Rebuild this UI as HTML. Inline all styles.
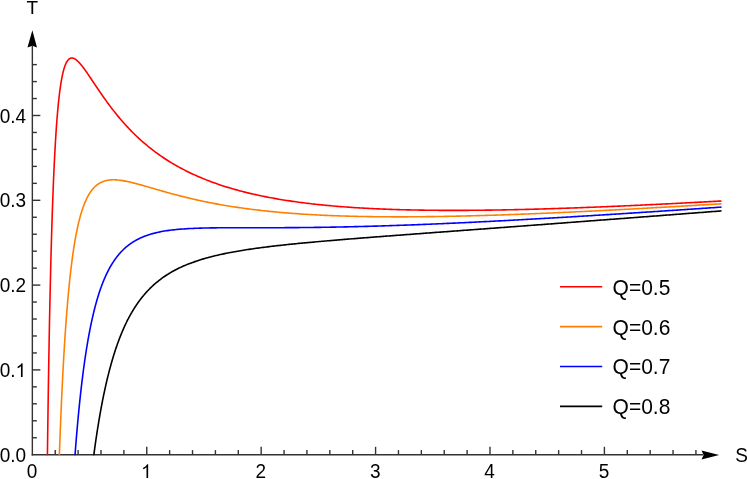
<!DOCTYPE html>
<html><head><meta charset="utf-8"><title>T-S plot</title>
<style>html,body{margin:0;padding:0;background:#fff;}body{width:747px;height:479px;overflow:hidden;font-family:"Liberation Sans",sans-serif;}svg{display:block;will-change:transform}</style>
</head><body>
<svg width="747" height="479" viewBox="0 0 747 479">
<rect width="747" height="479" fill="#fff"/>
<defs><clipPath id="c"><rect x="0" y="0" width="747" height="455.25"/></clipPath></defs>
<g stroke="#333" stroke-width="1.4" fill="none">
<path d="M32.35,455.4 V46"/>
<path d="M31.650000000000002,454.7 H703"/>
<path d="M32.35,437.74 h4.5"/>
<path d="M32.35,420.78 h4.5"/>
<path d="M32.35,403.82 h4.5"/>
<path d="M32.35,386.86 h4.5"/>
<path d="M32.35,369.90 h8.0"/>
<path d="M32.35,352.94 h4.5"/>
<path d="M32.35,335.98 h4.5"/>
<path d="M32.35,319.02 h4.5"/>
<path d="M32.35,302.06 h4.5"/>
<path d="M32.35,285.10 h8.0"/>
<path d="M32.35,268.14 h4.5"/>
<path d="M32.35,251.18 h4.5"/>
<path d="M32.35,234.22 h4.5"/>
<path d="M32.35,217.26 h4.5"/>
<path d="M32.35,200.30 h8.0"/>
<path d="M32.35,183.34 h4.5"/>
<path d="M32.35,166.38 h4.5"/>
<path d="M32.35,149.42 h4.5"/>
<path d="M32.35,132.46 h4.5"/>
<path d="M32.35,115.50 h8.0"/>
<path d="M32.35,98.54 h4.5"/>
<path d="M32.35,81.58 h4.5"/>
<path d="M32.35,64.62 h4.5"/>
<path d="M55.23,454.7 v-4.6"/>
<path d="M78.11,454.7 v-4.6"/>
<path d="M101.00,454.7 v-4.6"/>
<path d="M123.88,454.7 v-4.6"/>
<path d="M146.76,454.7 v-7.9"/>
<path d="M169.64,454.7 v-4.6"/>
<path d="M192.52,454.7 v-4.6"/>
<path d="M215.41,454.7 v-4.6"/>
<path d="M238.29,454.7 v-4.6"/>
<path d="M261.17,454.7 v-7.9"/>
<path d="M284.05,454.7 v-4.6"/>
<path d="M306.93,454.7 v-4.6"/>
<path d="M329.82,454.7 v-4.6"/>
<path d="M352.70,454.7 v-4.6"/>
<path d="M375.58,454.7 v-7.9"/>
<path d="M398.46,454.7 v-4.6"/>
<path d="M421.34,454.7 v-4.6"/>
<path d="M444.23,454.7 v-4.6"/>
<path d="M467.11,454.7 v-4.6"/>
<path d="M489.99,454.7 v-7.9"/>
<path d="M512.87,454.7 v-4.6"/>
<path d="M535.75,454.7 v-4.6"/>
<path d="M558.64,454.7 v-4.6"/>
<path d="M581.52,454.7 v-4.6"/>
<path d="M604.40,454.7 v-7.9"/>
<path d="M627.28,454.7 v-4.6"/>
<path d="M650.16,454.7 v-4.6"/>
<path d="M673.05,454.7 v-4.6"/>
<path d="M695.93,454.7 v-4.6"/>
</g>
<g clip-path="url(#c)"><path d="M46.00,470.00 L46.25,470.00 L46.50,470.00 L46.75,470.00 L47.00,470.00 L47.26,467.88 L47.51,447.95 L47.76,429.07 L48.01,411.19 L48.26,394.24 L48.51,378.16 L48.76,362.91 L49.01,348.43 L49.26,334.67 L49.51,321.60 L49.77,309.17 L50.02,297.35 L50.27,286.11 L50.52,275.40 L50.77,265.21 L51.02,255.50 L51.27,246.25 L51.52,237.43 L51.77,229.02 L52.03,221.00 L52.28,213.35 L52.53,206.05 L52.78,199.08 L53.03,192.43 L53.28,186.08 L53.53,180.01 L53.78,174.21 L54.03,168.68 L54.28,163.39 L54.54,158.33 L54.79,153.49 L55.04,148.87 L55.29,144.45 L55.54,140.23 L55.79,136.19 L56.04,132.33 L56.29,128.63 L56.54,125.10 L56.79,121.72 L57.05,118.49 L57.30,115.40 L57.55,112.44 L57.80,109.62 L58.05,106.91 L58.30,104.33 L58.55,101.86 L58.80,99.49 L59.05,97.24 L59.31,95.08 L59.56,93.01 L59.81,91.04 L60.06,89.16 L60.31,87.36 L60.56,85.65 L60.81,84.01 L61.06,82.44 L61.31,80.95 L61.56,79.53 L61.82,78.17 L62.07,76.88 L62.32,75.65 L62.57,74.48 L62.82,73.37 L63.07,72.31 L63.32,71.30 L63.57,70.35 L63.82,69.44 L64.08,68.58 L64.33,67.76 L64.58,66.99 L64.83,66.26 L65.08,65.57 L65.33,64.92 L65.58,64.31 L65.83,63.74 L66.08,63.19 L66.33,62.69 L66.59,62.21 L66.84,61.77 L67.09,61.35 L67.34,60.97 L67.59,60.61 L67.84,60.28 L68.09,59.98 L68.34,59.70 L68.59,59.44 L68.85,59.21 L69.10,59.01 L69.35,58.82 L69.60,58.65 L69.85,58.51 L70.10,58.38 L70.35,58.28 L70.60,58.19 L70.85,58.12 L71.10,58.06 L71.36,58.03 L71.61,58.00 L71.86,58.00 L72.11,58.01 L72.36,58.03 L72.61,58.07 L72.86,58.12 L73.11,58.18 L73.36,58.25 L73.62,58.34 L73.87,58.44 L74.12,58.55 L74.37,58.67 L74.62,58.80 L74.87,58.94 L75.12,59.09 L75.37,59.25 L75.62,59.42 L75.87,59.60 L76.13,59.79 L76.38,59.98 L76.63,60.18 L76.88,60.39 L77.13,60.61 L77.38,60.83 L77.63,61.06 L77.88,61.30 L78.13,61.54 L78.38,61.79 L78.64,62.05 L78.89,62.31 L79.14,62.58 L79.39,62.85 L79.64,63.13 L79.89,63.41 L80.14,63.69 L80.39,63.98 L80.64,64.28 L80.90,64.58 L81.15,64.88 L81.40,65.19 L81.65,65.50 L81.90,65.81 L82.15,66.13 L82.40,66.45 L82.65,66.78 L82.90,67.10 L83.15,67.43 L83.41,67.77 L83.66,68.10 L83.91,68.44 L84.16,68.78 L84.41,69.12 L84.66,69.47 L84.91,69.81 L85.16,70.16 L85.41,70.51 L85.67,70.87 L85.92,71.22 L86.17,71.58 L86.42,71.94 L86.67,72.29 L86.92,72.65 L87.17,73.02 L87.42,73.38 L87.67,73.74 L87.92,74.11 L88.18,74.48 L88.43,74.84 L88.68,75.21 L88.93,75.58 L89.18,75.95 L89.43,76.32 L89.68,76.69 L89.93,77.07 L90.18,77.44 L90.44,77.81 L90.69,78.19 L90.94,78.56 L91.19,78.93 L91.44,79.31 L91.69,79.68 L91.94,80.06 L92.19,80.44 L92.44,80.81 L92.69,81.19 L92.95,81.56 L93.20,81.94 L93.45,82.31 L93.70,82.69 L93.95,83.07 L94.20,83.44 L94.45,83.82 L94.70,84.19 L94.95,84.57 L95.21,84.95 L95.46,85.32 L95.71,85.69 L95.96,86.07 L96.21,86.44 L96.46,86.82 L96.71,87.19 L96.96,87.56 L97.21,87.94 L97.46,88.31 L97.72,88.68 L97.97,89.05 L98.22,89.42 L98.47,89.79 L98.72,90.16 L98.97,90.53 L99.22,90.90 L99.47,91.27 L99.72,91.64 L99.97,92.00 L100.23,92.37 L100.48,92.74 L100.73,93.10 L100.98,93.47 L101.23,93.83 L101.48,94.19 L101.73,94.56 L101.98,94.92 L102.23,95.28 L102.49,95.64 L102.74,96.00 L102.99,96.36 L103.24,96.71 L103.49,97.07 L103.74,97.43 L103.99,97.78 L104.24,98.14 L104.49,98.49 L104.74,98.85 L105.00,99.20 L105.25,99.55 L105.50,99.90 L105.75,100.25 L106.00,100.60 L107.54,102.72 L109.09,104.82 L110.63,106.87 L112.17,108.89 L113.71,110.88 L115.26,112.83 L116.80,114.74 L118.34,116.62 L119.88,118.47 L121.43,120.27 L122.97,122.04 L124.51,123.78 L126.05,125.48 L127.60,127.15 L129.14,128.78 L130.68,130.39 L132.22,131.95 L133.77,133.49 L135.31,135.00 L136.85,136.47 L138.39,137.92 L139.94,139.34 L141.48,140.73 L143.02,142.09 L144.57,143.42 L146.11,144.72 L147.65,146.00 L149.19,147.26 L150.74,148.48 L152.28,149.69 L153.82,150.87 L155.36,152.02 L156.91,153.16 L158.45,154.27 L159.99,155.35 L161.53,156.42 L163.08,157.47 L164.62,158.49 L166.16,159.50 L167.70,160.48 L169.25,161.45 L170.79,162.40 L172.33,163.33 L173.87,164.24 L175.42,165.13 L176.96,166.01 L178.50,166.87 L180.05,167.71 L181.59,168.54 L183.13,169.35 L184.67,170.15 L186.22,170.93 L187.76,171.70 L189.30,172.45 L190.84,173.19 L192.39,173.92 L193.93,174.63 L195.47,175.33 L197.01,176.01 L198.56,176.68 L200.10,177.35 L201.64,177.99 L203.18,178.63 L204.73,179.25 L206.27,179.87 L207.81,180.47 L209.35,181.06 L210.90,181.64 L212.44,182.21 L213.98,182.77 L215.53,183.32 L217.07,183.86 L218.61,184.39 L220.15,184.92 L221.70,185.43 L223.24,185.93 L224.78,186.42 L226.32,186.91 L227.87,187.38 L229.41,187.85 L230.95,188.31 L232.49,188.76 L234.04,189.21 L235.58,189.64 L237.12,190.07 L238.66,190.49 L240.21,190.90 L241.75,191.31 L243.29,191.71 L244.83,192.10 L246.38,192.48 L247.92,192.86 L249.46,193.23 L251.01,193.60 L252.55,193.96 L254.09,194.31 L255.63,194.65 L257.18,194.99 L258.72,195.33 L260.26,195.66 L261.80,195.98 L263.35,196.29 L264.89,196.61 L266.43,196.91 L267.97,197.21 L269.52,197.51 L271.06,197.80 L272.60,198.08 L274.14,198.36 L275.69,198.63 L277.23,198.90 L278.77,199.17 L280.31,199.43 L281.86,199.68 L283.40,199.94 L284.94,200.18 L286.48,200.42 L288.03,200.66 L289.57,200.90 L291.11,201.12 L292.66,201.35 L294.20,201.57 L295.74,201.79 L297.28,202.00 L298.83,202.21 L300.37,202.42 L301.91,202.62 L303.45,202.81 L305.00,203.01 L306.54,203.20 L308.08,203.39 L309.62,203.57 L311.17,203.75 L312.71,203.93 L314.25,204.10 L315.79,204.27 L317.34,204.44 L318.88,204.60 L320.42,204.76 L321.96,204.92 L323.51,205.07 L325.05,205.22 L326.59,205.37 L328.14,205.52 L329.68,205.66 L331.22,205.80 L332.76,205.94 L334.31,206.07 L335.85,206.20 L337.39,206.33 L338.93,206.46 L340.48,206.58 L342.02,206.70 L343.56,206.82 L345.10,206.94 L346.65,207.05 L348.19,207.16 L349.73,207.27 L351.27,207.37 L352.82,207.48 L354.36,207.58 L355.90,207.68 L357.44,207.78 L358.99,207.87 L360.53,207.96 L362.07,208.05 L363.62,208.14 L365.16,208.23 L366.70,208.31 L368.24,208.39 L369.79,208.47 L371.33,208.55 L372.87,208.63 L374.41,208.70 L375.96,208.77 L377.50,208.84 L379.04,208.91 L380.58,208.98 L382.13,209.04 L383.67,209.11 L385.21,209.17 L386.75,209.23 L388.30,209.28 L389.84,209.34 L391.38,209.39 L392.92,209.45 L394.47,209.50 L396.01,209.55 L397.55,209.59 L399.10,209.64 L400.64,209.68 L402.18,209.73 L403.72,209.77 L405.27,209.81 L406.81,209.85 L408.35,209.88 L409.89,209.92 L411.44,209.95 L412.98,209.98 L414.52,210.02 L416.06,210.05 L417.61,210.07 L419.15,210.10 L420.69,210.13 L422.23,210.15 L423.78,210.17 L425.32,210.20 L426.86,210.22 L428.40,210.23 L429.95,210.25 L431.49,210.27 L433.03,210.28 L434.58,210.30 L436.12,210.31 L437.66,210.32 L439.20,210.33 L440.75,210.34 L442.29,210.35 L443.83,210.36 L445.37,210.37 L446.92,210.37 L448.46,210.37 L450.00,210.38 L451.54,210.38 L453.09,210.38 L454.63,210.38 L456.17,210.38 L457.71,210.38 L459.26,210.37 L460.80,210.37 L462.34,210.36 L463.88,210.36 L465.43,210.35 L466.97,210.34 L468.51,210.33 L470.06,210.32 L471.60,210.31 L473.14,210.30 L474.68,210.28 L476.23,210.27 L477.77,210.26 L479.31,210.24 L480.85,210.22 L482.40,210.21 L483.94,210.19 L485.48,210.17 L487.02,210.15 L488.57,210.13 L490.11,210.11 L491.65,210.08 L493.19,210.06 L494.74,210.04 L496.28,210.01 L497.82,209.99 L499.36,209.96 L500.91,209.93 L502.45,209.91 L503.99,209.88 L505.54,209.85 L507.08,209.82 L508.62,209.79 L510.16,209.76 L511.71,209.73 L513.25,209.69 L514.79,209.66 L516.33,209.62 L517.88,209.59 L519.42,209.55 L520.96,209.52 L522.50,209.48 L524.05,209.44 L525.59,209.41 L527.13,209.37 L528.67,209.33 L530.22,209.29 L531.76,209.25 L533.30,209.21 L534.84,209.16 L536.39,209.12 L537.93,209.08 L539.47,209.04 L541.02,208.99 L542.56,208.95 L544.10,208.90 L545.64,208.86 L547.19,208.81 L548.73,208.76 L550.27,208.72 L551.81,208.67 L553.36,208.62 L554.90,208.57 L556.44,208.52 L557.98,208.47 L559.53,208.42 L561.07,208.37 L562.61,208.32 L564.15,208.26 L565.70,208.21 L567.24,208.16 L568.78,208.10 L570.32,208.05 L571.87,208.00 L573.41,207.94 L574.95,207.89 L576.49,207.83 L578.04,207.77 L579.58,207.72 L581.12,207.66 L582.67,207.60 L584.21,207.54 L585.75,207.48 L587.29,207.42 L588.84,207.36 L590.38,207.30 L591.92,207.24 L593.46,207.18 L595.01,207.12 L596.55,207.06 L598.09,207.00 L599.63,206.94 L601.18,206.87 L602.72,206.81 L604.26,206.75 L605.80,206.68 L607.35,206.62 L608.89,206.55 L610.43,206.49 L611.97,206.42 L613.52,206.36 L615.06,206.29 L616.60,206.22 L618.15,206.16 L619.69,206.09 L621.23,206.02 L622.77,205.95 L624.32,205.88 L625.86,205.82 L627.40,205.75 L628.94,205.68 L630.49,205.61 L632.03,205.54 L633.57,205.47 L635.11,205.40 L636.66,205.33 L638.20,205.25 L639.74,205.18 L641.28,205.11 L642.83,205.04 L644.37,204.96 L645.91,204.89 L647.45,204.82 L649.00,204.74 L650.54,204.67 L652.08,204.60 L653.63,204.52 L655.17,204.45 L656.71,204.37 L658.25,204.30 L659.80,204.22 L661.34,204.15 L662.88,204.07 L664.42,203.99 L665.97,203.92 L667.51,203.84 L669.05,203.76 L670.59,203.68 L672.14,203.61 L673.68,203.53 L675.22,203.45 L676.76,203.37 L678.31,203.29 L679.85,203.21 L681.39,203.14 L682.93,203.06 L684.48,202.98 L686.02,202.90 L687.56,202.82 L689.11,202.73 L690.65,202.65 L692.19,202.57 L693.73,202.49 L695.28,202.41 L696.82,202.33 L698.36,202.25 L699.90,202.16 L701.45,202.08 L702.99,202.00 L704.53,201.92 L706.07,201.83 L707.62,201.75 L709.16,201.67 L710.70,201.58 L712.24,201.50 L713.79,201.42 L715.33,201.33 L716.87,201.25 L718.41,201.16 L719.96,201.08 L721.50,200.99" fill="none" stroke="#ff0000" stroke-width="1.6" stroke-linejoin="round"/>
<path d="M58.00,470.00 L58.25,470.00 L58.50,470.00 L58.75,470.00 L59.00,465.26 L59.26,457.95 L59.51,450.85 L59.76,443.96 L60.01,437.27 L60.26,430.78 L60.51,424.47 L60.76,418.34 L61.01,412.38 L61.26,406.59 L61.51,400.96 L61.77,395.49 L62.02,390.17 L62.27,385.00 L62.52,379.97 L62.77,375.07 L63.02,370.31 L63.27,365.67 L63.52,361.16 L63.77,356.76 L64.03,352.49 L64.28,348.32 L64.53,344.27 L64.78,340.32 L65.03,336.47 L65.28,332.72 L65.53,329.07 L65.78,325.51 L66.03,322.05 L66.28,318.67 L66.54,315.37 L66.79,312.16 L67.04,309.03 L67.29,305.97 L67.54,302.99 L67.79,300.09 L68.04,297.25 L68.29,294.49 L68.54,291.79 L68.79,289.16 L69.05,286.59 L69.30,284.09 L69.55,281.64 L69.80,279.25 L70.05,276.92 L70.30,274.65 L70.55,272.43 L70.80,270.26 L71.05,268.14 L71.31,266.07 L71.56,264.05 L71.81,262.08 L72.06,260.15 L72.31,258.27 L72.56,256.43 L72.81,254.64 L73.06,252.88 L73.31,251.17 L73.56,249.49 L73.82,247.86 L74.07,246.26 L74.32,244.69 L74.57,243.16 L74.82,241.67 L75.07,240.21 L75.32,238.78 L75.57,237.39 L75.82,236.03 L76.08,234.69 L76.33,233.39 L76.58,232.12 L76.83,230.87 L77.08,229.65 L77.33,228.46 L77.58,227.30 L77.83,226.16 L78.08,225.04 L78.33,223.95 L78.59,222.89 L78.84,221.85 L79.09,220.83 L79.34,219.83 L79.59,218.86 L79.84,217.91 L80.09,216.97 L80.34,216.06 L80.59,215.17 L80.85,214.30 L81.10,213.44 L81.35,212.61 L81.60,211.79 L81.85,211.00 L82.10,210.21 L82.35,209.45 L82.60,208.70 L82.85,207.97 L83.10,207.26 L83.36,206.56 L83.61,205.87 L83.86,205.21 L84.11,204.55 L84.36,203.91 L84.61,203.28 L84.86,202.67 L85.11,202.07 L85.36,201.49 L85.62,200.91 L85.87,200.35 L86.12,199.81 L86.37,199.27 L86.62,198.75 L86.87,198.23 L87.12,197.73 L87.37,197.24 L87.62,196.76 L87.87,196.29 L88.13,195.84 L88.38,195.39 L88.63,194.95 L88.88,194.52 L89.13,194.10 L89.38,193.69 L89.63,193.29 L89.88,192.90 L90.13,192.52 L90.38,192.15 L90.64,191.78 L90.89,191.43 L91.14,191.08 L91.39,190.74 L91.64,190.41 L91.89,190.08 L92.14,189.76 L92.39,189.45 L92.64,189.15 L92.90,188.86 L93.15,188.57 L93.40,188.29 L93.65,188.01 L93.90,187.74 L94.15,187.48 L94.40,187.23 L94.65,186.98 L94.90,186.73 L95.15,186.50 L95.41,186.27 L95.66,186.04 L95.91,185.82 L96.16,185.61 L96.41,185.40 L96.66,185.19 L96.91,185.00 L97.16,184.80 L97.41,184.61 L97.67,184.43 L97.92,184.25 L98.17,184.08 L98.42,183.91 L98.67,183.75 L98.92,183.59 L99.17,183.43 L99.42,183.28 L99.67,183.13 L99.92,182.99 L100.18,182.85 L100.43,182.72 L100.68,182.59 L100.93,182.46 L101.18,182.34 L101.43,182.22 L101.68,182.10 L101.93,181.99 L102.18,181.88 L102.44,181.78 L102.69,181.68 L102.94,181.58 L103.19,181.48 L103.44,181.39 L103.69,181.30 L103.94,181.22 L104.19,181.13 L104.44,181.06 L104.69,180.98 L104.95,180.91 L105.20,180.83 L105.45,180.77 L105.70,180.70 L105.95,180.64 L106.20,180.58 L106.45,180.52 L106.70,180.47 L106.95,180.42 L107.21,180.37 L107.46,180.32 L107.71,180.27 L107.96,180.23 L108.21,180.19 L108.46,180.15 L108.71,180.12 L108.96,180.08 L109.21,180.05 L109.46,180.02 L109.72,179.99 L109.97,179.97 L110.22,179.94 L110.47,179.92 L110.72,179.90 L110.97,179.89 L111.22,179.87 L111.47,179.85 L111.72,179.84 L111.97,179.83 L112.23,179.82 L112.48,179.82 L112.73,179.81 L112.98,179.81 L113.23,179.80 L113.48,179.80 L113.73,179.80 L113.98,179.81 L114.23,179.81 L114.49,179.81 L114.74,179.82 L114.99,179.83 L115.24,179.84 L115.49,179.85 L115.74,179.86 L115.99,179.87 L116.24,179.89 L116.49,179.90 L116.74,179.92 L117.00,179.94 L117.25,179.96 L117.50,179.98 L117.75,180.00 L118.00,180.02 L119.51,180.18 L121.03,180.38 L122.54,180.61 L124.05,180.87 L125.56,181.15 L127.08,181.46 L128.59,181.78 L130.10,182.12 L131.61,182.48 L133.13,182.86 L134.64,183.24 L136.15,183.64 L137.66,184.04 L139.18,184.45 L140.69,184.87 L142.20,185.30 L143.71,185.73 L145.23,186.16 L146.74,186.59 L148.25,187.03 L149.76,187.47 L151.28,187.91 L152.79,188.35 L154.30,188.79 L155.81,189.23 L157.33,189.66 L158.84,190.10 L160.35,190.53 L161.86,190.96 L163.38,191.39 L164.89,191.82 L166.40,192.24 L167.91,192.66 L169.43,193.08 L170.94,193.49 L172.45,193.90 L173.96,194.31 L175.48,194.71 L176.99,195.10 L178.50,195.50 L180.01,195.89 L181.53,196.27 L183.04,196.65 L184.55,197.03 L186.06,197.40 L187.58,197.76 L189.09,198.13 L190.60,198.48 L192.11,198.84 L193.63,199.19 L195.14,199.53 L196.65,199.87 L198.16,200.20 L199.68,200.54 L201.19,200.86 L202.70,201.18 L204.21,201.50 L205.73,201.81 L207.24,202.12 L208.75,202.42 L210.26,202.72 L211.78,203.02 L213.29,203.31 L214.80,203.59 L216.31,203.87 L217.83,204.15 L219.34,204.42 L220.85,204.69 L222.36,204.96 L223.88,205.22 L225.39,205.47 L226.90,205.73 L228.41,205.98 L229.93,206.22 L231.44,206.46 L232.95,206.70 L234.46,206.93 L235.98,207.16 L237.49,207.39 L239.00,207.61 L240.52,207.83 L242.03,208.04 L243.54,208.25 L245.05,208.46 L246.57,208.66 L248.08,208.86 L249.59,209.06 L251.10,209.25 L252.62,209.44 L254.13,209.63 L255.64,209.82 L257.15,210.00 L258.67,210.17 L260.18,210.35 L261.69,210.52 L263.20,210.69 L264.72,210.85 L266.23,211.01 L267.74,211.17 L269.25,211.33 L270.77,211.48 L272.28,211.63 L273.79,211.78 L275.30,211.92 L276.82,212.07 L278.33,212.20 L279.84,212.34 L281.35,212.47 L282.87,212.61 L284.38,212.73 L285.89,212.86 L287.40,212.98 L288.92,213.11 L290.43,213.22 L291.94,213.34 L293.45,213.45 L294.97,213.56 L296.48,213.67 L297.99,213.78 L299.50,213.88 L301.02,213.99 L302.53,214.09 L304.04,214.18 L305.55,214.28 L307.07,214.37 L308.58,214.46 L310.09,214.55 L311.60,214.64 L313.12,214.73 L314.63,214.81 L316.14,214.89 L317.65,214.97 L319.17,215.04 L320.68,215.12 L322.19,215.19 L323.70,215.26 L325.22,215.33 L326.73,215.40 L328.24,215.47 L329.75,215.53 L331.27,215.59 L332.78,215.65 L334.29,215.71 L335.80,215.77 L337.32,215.82 L338.83,215.88 L340.34,215.93 L341.85,215.98 L343.37,216.03 L344.88,216.07 L346.39,216.12 L347.90,216.16 L349.42,216.21 L350.93,216.25 L352.44,216.29 L353.95,216.32 L355.47,216.36 L356.98,216.39 L358.49,216.43 L360.01,216.46 L361.52,216.49 L363.03,216.52 L364.54,216.55 L366.06,216.57 L367.57,216.60 L369.08,216.62 L370.59,216.65 L372.11,216.67 L373.62,216.69 L375.13,216.71 L376.64,216.72 L378.16,216.74 L379.67,216.75 L381.18,216.77 L382.69,216.78 L384.21,216.79 L385.72,216.80 L387.23,216.81 L388.74,216.82 L390.26,216.82 L391.77,216.83 L393.28,216.83 L394.79,216.84 L396.31,216.84 L397.82,216.84 L399.33,216.84 L400.84,216.84 L402.36,216.84 L403.87,216.84 L405.38,216.83 L406.89,216.83 L408.41,216.82 L409.92,216.81 L411.43,216.81 L412.94,216.80 L414.46,216.79 L415.97,216.78 L417.48,216.76 L418.99,216.75 L420.51,216.74 L422.02,216.72 L423.53,216.71 L425.04,216.69 L426.56,216.67 L428.07,216.66 L429.58,216.64 L431.09,216.62 L432.61,216.60 L434.12,216.58 L435.63,216.55 L437.14,216.53 L438.66,216.51 L440.17,216.48 L441.68,216.46 L443.19,216.43 L444.71,216.40 L446.22,216.38 L447.73,216.35 L449.24,216.32 L450.76,216.29 L452.27,216.26 L453.78,216.23 L455.29,216.19 L456.81,216.16 L458.32,216.13 L459.83,216.09 L461.34,216.06 L462.86,216.02 L464.37,215.99 L465.88,215.95 L467.39,215.91 L468.91,215.87 L470.42,215.83 L471.93,215.79 L473.44,215.75 L474.96,215.71 L476.47,215.67 L477.98,215.63 L479.49,215.59 L481.01,215.54 L482.52,215.50 L484.03,215.46 L485.55,215.41 L487.06,215.37 L488.57,215.32 L490.08,215.27 L491.60,215.23 L493.11,215.18 L494.62,215.13 L496.13,215.08 L497.65,215.03 L499.16,214.98 L500.67,214.93 L502.18,214.88 L503.70,214.83 L505.21,214.77 L506.72,214.72 L508.23,214.67 L509.75,214.62 L511.26,214.56 L512.77,214.51 L514.28,214.45 L515.80,214.40 L517.31,214.34 L518.82,214.28 L520.33,214.23 L521.85,214.17 L523.36,214.11 L524.87,214.05 L526.38,213.99 L527.90,213.93 L529.41,213.87 L530.92,213.81 L532.43,213.75 L533.95,213.69 L535.46,213.63 L536.97,213.57 L538.48,213.51 L540.00,213.44 L541.51,213.38 L543.02,213.32 L544.53,213.25 L546.05,213.19 L547.56,213.12 L549.07,213.06 L550.58,212.99 L552.10,212.93 L553.61,212.86 L555.12,212.79 L556.63,212.73 L558.15,212.66 L559.66,212.59 L561.17,212.52 L562.68,212.46 L564.20,212.39 L565.71,212.32 L567.22,212.25 L568.73,212.18 L570.25,212.11 L571.76,212.04 L573.27,211.97 L574.78,211.90 L576.30,211.82 L577.81,211.75 L579.32,211.68 L580.83,211.61 L582.35,211.53 L583.86,211.46 L585.37,211.39 L586.88,211.31 L588.40,211.24 L589.91,211.17 L591.42,211.09 L592.93,211.02 L594.45,210.94 L595.96,210.86 L597.47,210.79 L598.98,210.71 L600.50,210.64 L602.01,210.56 L603.52,210.48 L605.04,210.41 L606.55,210.33 L608.06,210.25 L609.57,210.17 L611.09,210.09 L612.60,210.01 L614.11,209.94 L615.62,209.86 L617.14,209.78 L618.65,209.70 L620.16,209.62 L621.67,209.54 L623.19,209.46 L624.70,209.38 L626.21,209.30 L627.72,209.21 L629.24,209.13 L630.75,209.05 L632.26,208.97 L633.77,208.89 L635.29,208.80 L636.80,208.72 L638.31,208.64 L639.82,208.56 L641.34,208.47 L642.85,208.39 L644.36,208.31 L645.87,208.22 L647.39,208.14 L648.90,208.05 L650.41,207.97 L651.92,207.88 L653.44,207.80 L654.95,207.71 L656.46,207.63 L657.97,207.54 L659.49,207.46 L661.00,207.37 L662.51,207.29 L664.02,207.20 L665.54,207.11 L667.05,207.03 L668.56,206.94 L670.07,206.85 L671.59,206.76 L673.10,206.68 L674.61,206.59 L676.12,206.50 L677.64,206.41 L679.15,206.33 L680.66,206.24 L682.17,206.15 L683.69,206.06 L685.20,205.97 L686.71,205.88 L688.22,205.79 L689.74,205.70 L691.25,205.61 L692.76,205.52 L694.27,205.43 L695.79,205.34 L697.30,205.25 L698.81,205.16 L700.32,205.07 L701.84,204.98 L703.35,204.89 L704.86,204.80 L706.37,204.71 L707.89,204.62 L709.40,204.53 L710.91,204.43 L712.42,204.34 L713.94,204.25 L715.45,204.16 L716.96,204.07 L718.47,203.97 L719.99,203.88 L721.50,203.79" fill="none" stroke="#ff8000" stroke-width="1.6" stroke-linejoin="round"/>
<path d="M73.50,470.00 L73.75,470.00 L74.00,469.04 L74.25,465.48 L74.50,461.97 L74.76,458.53 L75.01,455.16 L75.26,451.84 L75.51,448.59 L75.76,445.39 L76.01,442.25 L76.26,439.16 L76.51,436.13 L76.76,433.15 L77.01,430.23 L77.27,427.35 L77.52,424.53 L77.77,421.75 L78.02,419.02 L78.27,416.34 L78.52,413.71 L78.77,411.12 L79.02,408.57 L79.27,406.06 L79.53,403.60 L79.78,401.18 L80.03,398.80 L80.28,396.46 L80.53,394.15 L80.78,391.89 L81.03,389.66 L81.28,387.47 L81.53,385.31 L81.78,383.19 L82.04,381.10 L82.29,379.05 L82.54,377.03 L82.79,375.04 L83.04,373.08 L83.29,371.16 L83.54,369.26 L83.79,367.39 L84.04,365.56 L84.29,363.75 L84.55,361.97 L84.80,360.22 L85.05,358.49 L85.30,356.79 L85.55,355.12 L85.80,353.47 L86.05,351.85 L86.30,350.25 L86.55,348.67 L86.81,347.12 L87.06,345.60 L87.31,344.09 L87.56,342.61 L87.81,341.15 L88.06,339.71 L88.31,338.30 L88.56,336.90 L88.81,335.53 L89.06,334.17 L89.32,332.83 L89.57,331.52 L89.82,330.22 L90.07,328.94 L90.32,327.68 L90.57,326.44 L90.82,325.22 L91.07,324.01 L91.32,322.82 L91.58,321.65 L91.83,320.49 L92.08,319.35 L92.33,318.23 L92.58,317.12 L92.83,316.03 L93.08,314.95 L93.33,313.89 L93.58,312.84 L93.83,311.81 L94.09,310.79 L94.34,309.78 L94.59,308.79 L94.84,307.81 L95.09,306.85 L95.34,305.90 L95.59,304.96 L95.84,304.03 L96.09,303.12 L96.35,302.22 L96.60,301.33 L96.85,300.46 L97.10,299.59 L97.35,298.74 L97.60,297.89 L97.85,297.06 L98.10,296.24 L98.35,295.43 L98.60,294.64 L98.86,293.85 L99.11,293.07 L99.36,292.30 L99.61,291.55 L99.86,290.80 L100.11,290.06 L100.36,289.33 L100.61,288.61 L100.86,287.90 L101.12,287.20 L101.37,286.51 L101.62,285.83 L101.87,285.15 L102.12,284.49 L102.37,283.83 L102.62,283.18 L102.87,282.54 L103.12,281.91 L103.37,281.29 L103.63,280.67 L103.88,280.06 L104.13,279.46 L104.38,278.87 L104.63,278.28 L104.88,277.70 L105.13,277.13 L105.38,276.56 L105.63,276.01 L105.88,275.46 L106.14,274.91 L106.39,274.37 L106.64,273.84 L106.89,273.32 L107.14,272.80 L107.39,272.29 L107.64,271.79 L107.89,271.29 L108.14,270.79 L108.40,270.31 L108.65,269.83 L108.90,269.35 L109.15,268.88 L109.40,268.42 L109.65,267.96 L109.90,267.51 L110.15,267.06 L110.40,266.62 L110.65,266.18 L110.91,265.75 L111.16,265.32 L111.41,264.90 L111.66,264.48 L111.91,264.07 L112.16,263.67 L112.41,263.26 L112.66,262.87 L112.91,262.47 L113.17,262.09 L113.42,261.70 L113.67,261.32 L113.92,260.95 L114.17,260.58 L114.42,260.22 L114.67,259.85 L114.92,259.50 L115.17,259.14 L115.42,258.79 L115.68,258.45 L115.93,258.11 L116.18,257.77 L116.43,257.44 L116.68,257.11 L116.93,256.78 L117.18,256.46 L117.43,256.14 L117.68,255.83 L117.94,255.52 L118.19,255.21 L118.44,254.91 L118.69,254.61 L118.94,254.31 L119.19,254.02 L119.44,253.73 L119.69,253.44 L119.94,253.16 L120.19,252.88 L120.45,252.60 L120.70,252.32 L120.95,252.05 L121.20,251.79 L121.45,251.52 L121.70,251.26 L121.95,251.00 L122.20,250.74 L122.45,250.49 L122.71,250.24 L122.96,249.99 L123.21,249.75 L123.46,249.50 L123.71,249.26 L123.96,249.03 L124.21,248.79 L124.46,248.56 L124.71,248.33 L124.96,248.11 L125.22,247.88 L125.47,247.66 L125.72,247.44 L125.97,247.22 L126.22,247.01 L126.47,246.80 L126.72,246.59 L126.97,246.38 L127.22,246.18 L127.47,245.97 L127.73,245.77 L127.98,245.57 L128.23,245.38 L128.48,245.18 L128.73,244.99 L128.98,244.80 L129.23,244.61 L129.48,244.43 L129.73,244.24 L129.99,244.06 L130.24,243.88 L130.49,243.70 L130.74,243.53 L130.99,243.35 L131.24,243.18 L131.49,243.01 L131.74,242.84 L131.99,242.68 L132.24,242.51 L132.50,242.35 L132.75,242.19 L133.00,242.03 L133.25,241.87 L133.50,241.71 L134.97,240.83 L136.45,240.00 L137.92,239.22 L139.39,238.49 L140.87,237.80 L142.34,237.16 L143.82,236.55 L145.29,235.98 L146.76,235.45 L148.24,234.95 L149.71,234.47 L151.18,234.03 L152.66,233.61 L154.13,233.22 L155.61,232.85 L157.08,232.51 L158.55,232.18 L160.03,231.88 L161.50,231.59 L162.97,231.32 L164.45,231.07 L165.92,230.83 L167.39,230.61 L168.87,230.40 L170.34,230.21 L171.82,230.02 L173.29,229.85 L174.76,229.69 L176.24,229.54 L177.71,229.40 L179.18,229.27 L180.66,229.15 L182.13,229.03 L183.61,228.93 L185.08,228.83 L186.55,228.74 L188.03,228.65 L189.50,228.57 L190.97,228.49 L192.45,228.43 L193.92,228.36 L195.39,228.30 L196.87,228.25 L198.34,228.20 L199.82,228.15 L201.29,228.11 L202.76,228.07 L204.24,228.03 L205.71,228.00 L207.18,227.97 L208.66,227.94 L210.13,227.91 L211.61,227.89 L213.08,227.87 L214.55,227.85 L216.03,227.83 L217.50,227.82 L218.97,227.81 L220.45,227.79 L221.92,227.78 L223.39,227.77 L224.87,227.77 L226.34,227.76 L227.82,227.75 L229.29,227.75 L230.76,227.74 L232.24,227.74 L233.71,227.74 L235.18,227.73 L236.66,227.73 L238.13,227.73 L239.61,227.73 L241.08,227.73 L242.55,227.73 L244.03,227.73 L245.50,227.73 L246.97,227.73 L248.45,227.73 L249.92,227.73 L251.39,227.73 L252.87,227.73 L254.34,227.73 L255.82,227.73 L257.29,227.73 L258.76,227.73 L260.24,227.73 L261.71,227.73 L263.18,227.73 L264.66,227.73 L266.13,227.73 L267.61,227.72 L269.08,227.72 L270.55,227.72 L272.03,227.72 L273.50,227.71 L274.97,227.71 L276.45,227.71 L277.92,227.70 L279.39,227.70 L280.87,227.69 L282.34,227.68 L283.82,227.68 L285.29,227.67 L286.76,227.66 L288.24,227.66 L289.71,227.65 L291.18,227.64 L292.66,227.63 L294.13,227.62 L295.61,227.61 L297.08,227.60 L298.55,227.58 L300.03,227.57 L301.50,227.56 L302.97,227.54 L304.45,227.53 L305.92,227.51 L307.39,227.50 L308.87,227.48 L310.34,227.47 L311.82,227.45 L313.29,227.43 L314.76,227.41 L316.24,227.39 L317.71,227.37 L319.18,227.35 L320.66,227.33 L322.13,227.31 L323.61,227.29 L325.08,227.26 L326.55,227.24 L328.03,227.21 L329.50,227.19 L330.97,227.16 L332.45,227.14 L333.92,227.11 L335.39,227.08 L336.87,227.06 L338.34,227.03 L339.82,227.00 L341.29,226.97 L342.76,226.94 L344.24,226.91 L345.71,226.88 L347.18,226.84 L348.66,226.81 L350.13,226.78 L351.61,226.74 L353.08,226.71 L354.55,226.67 L356.03,226.64 L357.50,226.60 L358.97,226.57 L360.45,226.53 L361.92,226.49 L363.39,226.45 L364.87,226.41 L366.34,226.37 L367.82,226.33 L369.29,226.29 L370.76,226.25 L372.24,226.21 L373.71,226.17 L375.18,226.12 L376.66,226.08 L378.13,226.04 L379.61,225.99 L381.08,225.95 L382.55,225.90 L384.03,225.85 L385.50,225.81 L386.97,225.76 L388.45,225.71 L389.92,225.66 L391.39,225.62 L392.87,225.57 L394.34,225.52 L395.82,225.47 L397.29,225.42 L398.76,225.36 L400.24,225.31 L401.71,225.26 L403.18,225.21 L404.66,225.15 L406.13,225.10 L407.61,225.05 L409.08,224.99 L410.55,224.94 L412.03,224.88 L413.50,224.83 L414.97,224.77 L416.45,224.71 L417.92,224.66 L419.39,224.60 L420.87,224.54 L422.34,224.48 L423.82,224.42 L425.29,224.36 L426.76,224.30 L428.24,224.24 L429.71,224.18 L431.18,224.12 L432.66,224.06 L434.13,224.00 L435.61,223.94 L437.08,223.87 L438.55,223.81 L440.03,223.75 L441.50,223.68 L442.97,223.62 L444.45,223.55 L445.92,223.49 L447.39,223.42 L448.87,223.36 L450.34,223.29 L451.82,223.22 L453.29,223.16 L454.76,223.09 L456.24,223.02 L457.71,222.96 L459.18,222.89 L460.66,222.82 L462.13,222.75 L463.61,222.68 L465.08,222.61 L466.55,222.54 L468.03,222.47 L469.50,222.40 L470.97,222.33 L472.45,222.26 L473.92,222.18 L475.39,222.11 L476.87,222.04 L478.34,221.97 L479.82,221.89 L481.29,221.82 L482.76,221.75 L484.24,221.67 L485.71,221.60 L487.18,221.52 L488.66,221.45 L490.13,221.37 L491.61,221.30 L493.08,221.22 L494.55,221.15 L496.03,221.07 L497.50,220.99 L498.97,220.92 L500.45,220.84 L501.92,220.76 L503.39,220.68 L504.87,220.61 L506.34,220.53 L507.82,220.45 L509.29,220.37 L510.76,220.29 L512.24,220.21 L513.71,220.13 L515.18,220.05 L516.66,219.97 L518.13,219.89 L519.61,219.81 L521.08,219.73 L522.55,219.65 L524.03,219.57 L525.50,219.49 L526.97,219.40 L528.45,219.32 L529.92,219.24 L531.39,219.16 L532.87,219.07 L534.34,218.99 L535.82,218.91 L537.29,218.82 L538.76,218.74 L540.24,218.66 L541.71,218.57 L543.18,218.49 L544.66,218.40 L546.13,218.32 L547.61,218.23 L549.08,218.15 L550.55,218.06 L552.03,217.98 L553.50,217.89 L554.97,217.80 L556.45,217.72 L557.92,217.63 L559.39,217.54 L560.87,217.46 L562.34,217.37 L563.82,217.28 L565.29,217.20 L566.76,217.11 L568.24,217.02 L569.71,216.93 L571.18,216.84 L572.66,216.76 L574.13,216.67 L575.61,216.58 L577.08,216.49 L578.55,216.40 L580.03,216.31 L581.50,216.22 L582.97,216.13 L584.45,216.04 L585.92,215.95 L587.39,215.86 L588.87,215.77 L590.34,215.68 L591.82,215.59 L593.29,215.50 L594.76,215.41 L596.24,215.32 L597.71,215.22 L599.18,215.13 L600.66,215.04 L602.13,214.95 L603.61,214.86 L605.08,214.76 L606.55,214.67 L608.03,214.58 L609.50,214.49 L610.97,214.39 L612.45,214.30 L613.92,214.21 L615.39,214.11 L616.87,214.02 L618.34,213.93 L619.82,213.83 L621.29,213.74 L622.76,213.65 L624.24,213.55 L625.71,213.46 L627.18,213.36 L628.66,213.27 L630.13,213.17 L631.61,213.08 L633.08,212.98 L634.55,212.89 L636.03,212.79 L637.50,212.70 L638.97,212.60 L640.45,212.51 L641.92,212.41 L643.39,212.32 L644.87,212.22 L646.34,212.13 L647.82,212.03 L649.29,211.93 L650.76,211.84 L652.24,211.74 L653.71,211.64 L655.18,211.55 L656.66,211.45 L658.13,211.35 L659.61,211.26 L661.08,211.16 L662.55,211.06 L664.03,210.96 L665.50,210.87 L666.97,210.77 L668.45,210.67 L669.92,210.57 L671.39,210.48 L672.87,210.38 L674.34,210.28 L675.82,210.18 L677.29,210.08 L678.76,209.99 L680.24,209.89 L681.71,209.79 L683.18,209.69 L684.66,209.59 L686.13,209.49 L687.61,209.39 L689.08,209.29 L690.55,209.19 L692.03,209.10 L693.50,209.00 L694.97,208.90 L696.45,208.80 L697.92,208.70 L699.39,208.60 L700.87,208.50 L702.34,208.40 L703.82,208.30 L705.29,208.20 L706.76,208.10 L708.24,208.00 L709.71,207.90 L711.18,207.80 L712.66,207.70 L714.13,207.60 L715.61,207.50 L717.08,207.40 L718.55,207.29 L720.03,207.19 L721.50,207.09" fill="none" stroke="#0000ff" stroke-width="1.6" stroke-linejoin="round"/>
<path d="M92.00,469.42 L92.25,467.35 L92.50,465.31 L92.75,463.29 L93.00,461.30 L93.26,459.33 L93.51,457.38 L93.76,455.46 L94.01,453.57 L94.26,451.69 L94.51,449.84 L94.76,448.01 L95.01,446.20 L95.26,444.41 L95.51,442.65 L95.77,440.90 L96.02,439.18 L96.27,437.48 L96.52,435.79 L96.77,434.13 L97.02,432.48 L97.27,430.86 L97.52,429.25 L97.77,427.66 L98.03,426.09 L98.28,424.54 L98.53,423.01 L98.78,421.49 L99.03,419.99 L99.28,418.51 L99.53,417.04 L99.78,415.59 L100.03,414.16 L100.28,412.74 L100.54,411.34 L100.79,409.95 L101.04,408.58 L101.29,407.23 L101.54,405.89 L101.79,404.56 L102.04,403.25 L102.29,401.95 L102.54,400.67 L102.79,399.40 L103.05,398.14 L103.30,396.90 L103.55,395.67 L103.80,394.46 L104.05,393.25 L104.30,392.06 L104.55,390.89 L104.80,389.72 L105.05,388.57 L105.31,387.43 L105.56,386.30 L105.81,385.18 L106.06,384.08 L106.31,382.98 L106.56,381.90 L106.81,380.83 L107.06,379.77 L107.31,378.72 L107.56,377.68 L107.82,376.65 L108.07,375.64 L108.32,374.63 L108.57,373.63 L108.82,372.64 L109.07,371.67 L109.32,370.70 L109.57,369.74 L109.82,368.79 L110.08,367.85 L110.33,366.93 L110.58,366.01 L110.83,365.09 L111.08,364.19 L111.33,363.30 L111.58,362.41 L111.83,361.54 L112.08,360.67 L112.33,359.81 L112.59,358.96 L112.84,358.12 L113.09,357.28 L113.34,356.46 L113.59,355.64 L113.84,354.83 L114.09,354.03 L114.34,353.23 L114.59,352.44 L114.85,351.66 L115.10,350.89 L115.35,350.12 L115.60,349.37 L115.85,348.61 L116.10,347.87 L116.35,347.13 L116.60,346.40 L116.85,345.68 L117.10,344.96 L117.36,344.25 L117.61,343.55 L117.86,342.85 L118.11,342.16 L118.36,341.47 L118.61,340.79 L118.86,340.12 L119.11,339.46 L119.36,338.80 L119.62,338.14 L119.87,337.49 L120.12,336.85 L120.37,336.21 L120.62,335.58 L120.87,334.96 L121.12,334.34 L121.37,333.72 L121.62,333.11 L121.87,332.51 L122.13,331.91 L122.38,331.32 L122.63,330.73 L122.88,330.15 L123.13,329.57 L123.38,329.00 L123.63,328.43 L123.88,327.86 L124.13,327.31 L124.38,326.75 L124.64,326.21 L124.89,325.66 L125.14,325.12 L125.39,324.59 L125.64,324.06 L125.89,323.53 L126.14,323.01 L126.39,322.49 L126.64,321.98 L126.90,321.47 L127.15,320.97 L127.40,320.47 L127.65,319.98 L127.90,319.48 L128.15,319.00 L128.40,318.51 L128.65,318.04 L128.90,317.56 L129.15,317.09 L129.41,316.62 L129.66,316.16 L129.91,315.70 L130.16,315.24 L130.41,314.79 L130.66,314.34 L130.91,313.90 L131.16,313.46 L131.41,313.02 L131.67,312.59 L131.92,312.15 L132.17,311.73 L132.42,311.30 L132.67,310.88 L132.92,310.47 L133.17,310.05 L133.42,309.64 L133.67,309.24 L133.92,308.83 L134.18,308.43 L134.43,308.03 L134.68,307.64 L134.93,307.25 L135.18,306.86 L135.43,306.47 L135.68,306.09 L135.93,305.71 L136.18,305.34 L136.44,304.96 L136.69,304.59 L136.94,304.22 L137.19,303.86 L137.44,303.50 L137.69,303.14 L137.94,302.78 L138.19,302.43 L138.44,302.08 L138.69,301.73 L138.95,301.38 L139.20,301.04 L139.45,300.70 L139.70,300.36 L139.95,300.03 L140.20,299.69 L140.45,299.36 L140.70,299.03 L140.95,298.71 L141.21,298.39 L141.46,298.07 L141.71,297.75 L141.96,297.43 L142.21,297.12 L142.46,296.81 L142.71,296.50 L142.96,296.19 L143.21,295.89 L143.46,295.58 L143.72,295.28 L143.97,294.99 L144.22,294.69 L144.47,294.40 L144.72,294.11 L144.97,293.82 L145.22,293.53 L145.47,293.24 L145.72,292.96 L145.97,292.68 L146.23,292.40 L146.48,292.12 L146.73,291.85 L146.98,291.58 L147.23,291.30 L147.48,291.03 L147.73,290.77 L147.98,290.50 L148.23,290.24 L148.49,289.98 L148.74,289.72 L148.99,289.46 L149.24,289.20 L149.49,288.95 L149.74,288.69 L149.99,288.44 L150.24,288.19 L150.49,287.95 L150.74,287.70 L151.00,287.46 L151.25,287.21 L151.50,286.97 L151.75,286.74 L152.00,286.50 L153.43,285.18 L154.85,283.91 L156.28,282.69 L157.71,281.51 L159.14,280.37 L160.56,279.28 L161.99,278.23 L163.42,277.21 L164.85,276.23 L166.27,275.28 L167.70,274.37 L169.13,273.49 L170.56,272.63 L171.98,271.81 L173.41,271.01 L174.84,270.24 L176.26,269.49 L177.69,268.77 L179.12,268.07 L180.55,267.39 L181.97,266.73 L183.40,266.10 L184.83,265.48 L186.26,264.88 L187.68,264.30 L189.11,263.73 L190.54,263.19 L191.96,262.65 L193.39,262.13 L194.82,261.63 L196.25,261.14 L197.67,260.67 L199.10,260.20 L200.53,259.75 L201.96,259.32 L203.38,258.89 L204.81,258.47 L206.24,258.07 L207.67,257.67 L209.09,257.29 L210.52,256.91 L211.95,256.54 L213.37,256.19 L214.80,255.84 L216.23,255.50 L217.66,255.16 L219.08,254.84 L220.51,254.52 L221.94,254.21 L223.37,253.90 L224.79,253.60 L226.22,253.31 L227.65,253.03 L229.08,252.75 L230.50,252.47 L231.93,252.20 L233.36,251.94 L234.78,251.68 L236.21,251.43 L237.64,251.18 L239.07,250.94 L240.49,250.70 L241.92,250.47 L243.35,250.23 L244.78,250.01 L246.20,249.79 L247.63,249.57 L249.06,249.35 L250.48,249.14 L251.91,248.93 L253.34,248.73 L254.77,248.53 L256.19,248.33 L257.62,248.13 L259.05,247.94 L260.48,247.75 L261.90,247.56 L263.33,247.38 L264.76,247.20 L266.19,247.02 L267.61,246.84 L269.04,246.66 L270.47,246.49 L271.89,246.32 L273.32,246.15 L274.75,245.99 L276.18,245.82 L277.60,245.66 L279.03,245.50 L280.46,245.34 L281.89,245.19 L283.31,245.03 L284.74,244.88 L286.17,244.72 L287.60,244.57 L289.02,244.42 L290.45,244.28 L291.88,244.13 L293.30,243.99 L294.73,243.84 L296.16,243.70 L297.59,243.56 L299.01,243.42 L300.44,243.28 L301.87,243.14 L303.30,243.01 L304.72,242.87 L306.15,242.74 L307.58,242.60 L309.01,242.47 L310.43,242.34 L311.86,242.21 L313.29,242.08 L314.71,241.95 L316.14,241.82 L317.57,241.69 L319.00,241.57 L320.42,241.44 L321.85,241.32 L323.28,241.19 L324.71,241.07 L326.13,240.94 L327.56,240.82 L328.99,240.70 L330.41,240.58 L331.84,240.46 L333.27,240.34 L334.70,240.22 L336.12,240.10 L337.55,239.98 L338.98,239.86 L340.41,239.74 L341.83,239.63 L343.26,239.51 L344.69,239.39 L346.12,239.28 L347.54,239.16 L348.97,239.05 L350.40,238.93 L351.82,238.82 L353.25,238.70 L354.68,238.59 L356.11,238.48 L357.53,238.36 L358.96,238.25 L360.39,238.14 L361.82,238.03 L363.24,237.92 L364.67,237.80 L366.10,237.69 L367.53,237.58 L368.95,237.47 L370.38,237.36 L371.81,237.25 L373.23,237.14 L374.66,237.03 L376.09,236.92 L377.52,236.81 L378.94,236.70 L380.37,236.59 L381.80,236.48 L383.23,236.37 L384.65,236.27 L386.08,236.16 L387.51,236.05 L388.93,235.94 L390.36,235.83 L391.79,235.72 L393.22,235.62 L394.64,235.51 L396.07,235.40 L397.50,235.29 L398.93,235.19 L400.35,235.08 L401.78,234.97 L403.21,234.87 L404.64,234.76 L406.06,234.65 L407.49,234.54 L408.92,234.44 L410.34,234.33 L411.77,234.22 L413.20,234.12 L414.63,234.01 L416.05,233.91 L417.48,233.80 L418.91,233.69 L420.34,233.59 L421.76,233.48 L423.19,233.37 L424.62,233.27 L426.05,233.16 L427.47,233.06 L428.90,232.95 L430.33,232.84 L431.75,232.74 L433.18,232.63 L434.61,232.53 L436.04,232.42 L437.46,232.32 L438.89,232.21 L440.32,232.10 L441.75,232.00 L443.17,231.89 L444.60,231.79 L446.03,231.68 L447.45,231.58 L448.88,231.47 L450.31,231.37 L451.74,231.26 L453.16,231.15 L454.59,231.05 L456.02,230.94 L457.45,230.84 L458.87,230.73 L460.30,230.63 L461.73,230.52 L463.16,230.41 L464.58,230.31 L466.01,230.20 L467.44,230.10 L468.86,229.99 L470.29,229.89 L471.72,229.78 L473.15,229.68 L474.57,229.57 L476.00,229.46 L477.43,229.36 L478.86,229.25 L480.28,229.15 L481.71,229.04 L483.14,228.94 L484.57,228.83 L485.99,228.72 L487.42,228.62 L488.85,228.51 L490.27,228.41 L491.70,228.30 L493.13,228.19 L494.56,228.09 L495.98,227.98 L497.41,227.88 L498.84,227.77 L500.27,227.66 L501.69,227.56 L503.12,227.45 L504.55,227.35 L505.97,227.24 L507.40,227.13 L508.83,227.03 L510.26,226.92 L511.68,226.81 L513.11,226.71 L514.54,226.60 L515.97,226.50 L517.39,226.39 L518.82,226.28 L520.25,226.18 L521.68,226.07 L523.10,225.96 L524.53,225.86 L525.96,225.75 L527.38,225.64 L528.81,225.54 L530.24,225.43 L531.67,225.32 L533.09,225.22 L534.52,225.11 L535.95,225.00 L537.38,224.90 L538.80,224.79 L540.23,224.68 L541.66,224.58 L543.09,224.47 L544.51,224.36 L545.94,224.26 L547.37,224.15 L548.79,224.04 L550.22,223.93 L551.65,223.83 L553.08,223.72 L554.50,223.61 L555.93,223.51 L557.36,223.40 L558.79,223.29 L560.21,223.18 L561.64,223.08 L563.07,222.97 L564.49,222.86 L565.92,222.75 L567.35,222.65 L568.78,222.54 L570.20,222.43 L571.63,222.32 L573.06,222.22 L574.49,222.11 L575.91,222.00 L577.34,221.89 L578.77,221.79 L580.20,221.68 L581.62,221.57 L583.05,221.46 L584.48,221.36 L585.90,221.25 L587.33,221.14 L588.76,221.03 L590.19,220.92 L591.61,220.82 L593.04,220.71 L594.47,220.60 L595.90,220.49 L597.32,220.38 L598.75,220.28 L600.18,220.17 L601.61,220.06 L603.03,219.95 L604.46,219.84 L605.89,219.74 L607.31,219.63 L608.74,219.52 L610.17,219.41 L611.60,219.30 L613.02,219.19 L614.45,219.09 L615.88,218.98 L617.31,218.87 L618.73,218.76 L620.16,218.65 L621.59,218.54 L623.02,218.44 L624.44,218.33 L625.87,218.22 L627.30,218.11 L628.72,218.00 L630.15,217.89 L631.58,217.78 L633.01,217.68 L634.43,217.57 L635.86,217.46 L637.29,217.35 L638.72,217.24 L640.14,217.13 L641.57,217.02 L643.00,216.91 L644.42,216.81 L645.85,216.70 L647.28,216.59 L648.71,216.48 L650.13,216.37 L651.56,216.26 L652.99,216.15 L654.42,216.04 L655.84,215.93 L657.27,215.83 L658.70,215.72 L660.13,215.61 L661.55,215.50 L662.98,215.39 L664.41,215.28 L665.83,215.17 L667.26,215.06 L668.69,214.95 L670.12,214.84 L671.54,214.73 L672.97,214.63 L674.40,214.52 L675.83,214.41 L677.25,214.30 L678.68,214.19 L680.11,214.08 L681.54,213.97 L682.96,213.86 L684.39,213.75 L685.82,213.64 L687.24,213.53 L688.67,213.42 L690.10,213.31 L691.53,213.20 L692.95,213.10 L694.38,212.99 L695.81,212.88 L697.24,212.77 L698.66,212.66 L700.09,212.55 L701.52,212.44 L702.94,212.33 L704.37,212.22 L705.80,212.11 L707.23,212.00 L708.65,211.89 L710.08,211.78 L711.51,211.67 L712.94,211.56 L714.36,211.45 L715.79,211.34 L717.22,211.23 L718.65,211.13 L720.07,211.02 L721.50,210.91" fill="none" stroke="#000000" stroke-width="1.6" stroke-linejoin="round"/></g>
<path d="M32.35,30.3 L27.5,47.6 L32.35,45.7 L37.0,47.6 Z" fill="#000"/>
<path d="M719.2,454.9 L701.5,450.4 L703.6,454.9 L701.5,459.4 Z" fill="#000"/>
<g font-family="Liberation Sans, sans-serif" font-size="19" fill="#000">
<text transform="translate(26.10,461.80) scale(1,1.05)" text-anchor="end">0.0</text>
<text transform="translate(15.54,377.00) scale(1,1.05)" text-anchor="end">0.</text>
<path d="M763 0H583V1147Q518 1085 412.5 1023T223 930V1104Q374 1175 487 1276T647 1472H763Z" transform="translate(15.54,376.90) scale(0.009277,-0.009277)" fill="#000"/>
<text transform="translate(26.10,292.20) scale(1,1.05)" text-anchor="end">0.2</text>
<text transform="translate(26.10,207.40) scale(1,1.05)" text-anchor="end">0.3</text>
<text transform="translate(26.10,122.60) scale(1,1.05)" text-anchor="end">0.4</text>
<text transform="translate(31.95,478.20) scale(1,1.05)" text-anchor="middle">0</text>
<path d="M763 0H583V1147Q518 1085 412.5 1023T223 930V1104Q374 1175 487 1276T647 1472H763Z" transform="translate(141.08,478.00) scale(0.009277,-0.009277)" fill="#000"/>
<text transform="translate(260.77,478.20) scale(1,1.05)" text-anchor="middle">2</text>
<text transform="translate(375.18,478.20) scale(1,1.05)" text-anchor="middle">3</text>
<text transform="translate(489.59,478.20) scale(1,1.05)" text-anchor="middle">4</text>
<text transform="translate(604.00,478.20) scale(1,1.05)" text-anchor="middle">5</text>
<text transform="translate(32.30,13.90) scale(1,1.0)" text-anchor="middle">T</text>
<text transform="translate(735.20,461.50) scale(1,1.041)" text-anchor="start">S</text>
</g>
<g font-family="Liberation Sans, sans-serif" font-size="21" fill="#000">
<path d="M560,286.70 H602.2" stroke="#ff0000" stroke-width="1.6"/>
<text transform="translate(612.60,294.60) scale(1,1.041)" text-anchor="start">Q=0.5</text>
<path d="M560,326.60 H602.2" stroke="#ff8000" stroke-width="1.6"/>
<text transform="translate(612.60,334.50) scale(1,1.041)" text-anchor="start">Q=0.6</text>
<path d="M560,366.50 H602.2" stroke="#0000ff" stroke-width="1.6"/>
<text transform="translate(612.60,374.40) scale(1,1.041)" text-anchor="start">Q=0.7</text>
<path d="M560,406.40 H602.2" stroke="#000000" stroke-width="1.6"/>
<text transform="translate(612.60,414.30) scale(1,1.041)" text-anchor="start">Q=0.8</text>
</g>
</svg>
</body></html>
